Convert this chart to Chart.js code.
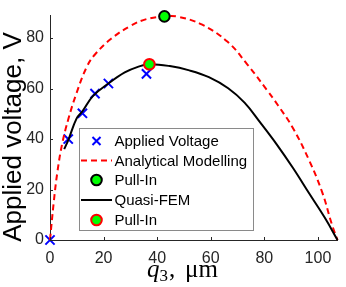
<!DOCTYPE html>
<html>
<head>
<meta charset="utf-8">
<script src="https://cdn.jsdelivr.net/npm/chart.js@4/dist/chart.umd.min.js"></script>
<style>
html,body{margin:0;padding:0;background:#fff;}
#wrap{width:346px;height:287px;position:relative;}
</style>
</head>
<body>
<div id="wrap"><canvas id="c" width="346" height="287"></canvas></div>
<script>
// ---- data ----
const appliedQ = [0, 6.8, 12.1, 16.8, 21.8, 36];
const appliedV = [0, 40, 50.2, 58, 62, 65.8];

const analyticQ = [0, 1.4, 2.7, 4.5, 6.9, 9.9, 13.6, 16.7, 22.8, 30, 36, 43, 48, 56.6, 66.3, 73.6, 80.9, 85, 90.7, 96.7, 101.6, 105.2, 107.3];
const analyticV = [0, 15, 26.5, 37.9, 48.1, 58.2, 68.3, 73.4, 79.7, 84.8, 87.5, 88.6, 88.4, 85.4, 78.5, 69.6, 59.5, 53.5, 44.3, 31.6, 18.9, 6.2, 0];

const pullInAnalyticQ = [42.7];
const pullInAnalyticV = [88.6];

const femQ = [5.3, 6.9, 9.9, 12.1, 16, 21.8, 27.9, 32.8, 37, 44.7, 52, 59.3, 66.5, 72.6, 78.5, 84.6, 90.7, 96.7, 102.8, 107.3];
const femV = [36, 39.8, 48.1, 51, 57, 62, 66.4, 68.6, 69.6, 68.9, 67.2, 64.5, 60.1, 54.4, 46.5, 37.9, 28.5, 18.5, 8.4, 0];

const pullInFemQ = [37.1];
const pullInFemV = [69.6];

const xTickVals = [0, 20, 40, 60, 80, 100];
const yTickVals = [0, 20, 40, 60, 80];
const xMin = 0, xMax = 107.3, yMin = 0, yMax = 88.9;

const seriesLabels = ['Applied Voltage', 'Analytical Modelling', 'Pull-In', 'Quasi-FEM', 'Pull-In'];

const zip = (a, b) => a.map((v, i) => ({x: v, y: b[i]}));
const AX = '#262626';
const GREEN = '#00ff00';

const datasets = [
  {label: seriesLabels[0], data: zip(appliedQ, appliedV), showLine: false,
   pointStyle: 'crossRot', pointRadius: 6.5, pointBorderWidth: 2, borderColor: '#0000ff', backgroundColor: '#0000ff', order: 5, clip: false},
  {label: seriesLabels[1], data: zip(analyticQ, analyticV), showLine: true, pointRadius: 0,
   borderColor: '#ff0000', borderWidth: 2, borderDash: [6, 4], tension: 0.4, order: 4, clip: false},
  {label: seriesLabels[2], data: zip(pullInAnalyticQ, pullInAnalyticV), showLine: false,
   pointStyle: 'circle', pointRadius: 5.3, pointBorderWidth: 2, borderColor: '#000000', backgroundColor: GREEN, order: 3, clip: false},
  {label: seriesLabels[3], data: zip(femQ, femV), showLine: true, pointRadius: 0,
   borderColor: '#000000', borderWidth: 2, tension: 0.4, order: 2, clip: false},
  {label: seriesLabels[4], data: zip(pullInFemQ, pullInFemV), showLine: false,
   pointStyle: 'circle', pointRadius: 5.3, pointBorderWidth: 2, borderColor: '#ff0000', backgroundColor: GREEN, order: 1, clip: false}
];

const decor = {
  id: 'decor',
  afterDraw(chart) {
    const ctx = chart.ctx;
    const xs = chart.scales.x, ys = chart.scales.y;
    const ca = chart.chartArea;
    ctx.save();
    // inward tick marks
    ctx.strokeStyle = AX; ctx.lineWidth = 1;
    xTickVals.forEach(v => {
      const px = Math.round(xs.getPixelForValue(v)) + 0.5;
      ctx.beginPath(); ctx.moveTo(px, ca.bottom); ctx.lineTo(px, ca.bottom - 3); ctx.stroke();
    });
    yTickVals.forEach(v => {
      const py = Math.round(ys.getPixelForValue(v)) + 0.5;
      ctx.beginPath(); ctx.moveTo(ca.left, py); ctx.lineTo(ca.left + 3, py); ctx.stroke();
    });
    // y label
    ctx.save();
    ctx.translate(21, 137);
    ctx.rotate(-Math.PI / 2);
    ctx.font = '26px "Liberation Sans", Arial, sans-serif';
    ctx.fillStyle = '#000';
    ctx.textAlign = 'center'; ctx.textBaseline = 'alphabetic';
    ctx.fillText('Applied voltage, V', 0, 0);
    ctx.restore();
    // x label: q_3, μm
    ctx.fillStyle = '#000';
    ctx.textBaseline = 'alphabetic'; ctx.textAlign = 'left';
    let x0 = 147; const base = 277;
    ctx.font = 'italic 25px "Liberation Serif", serif';
    ctx.fillText('q', x0, base); x0 += ctx.measureText('q').width;
    ctx.font = '17px "Liberation Serif", serif';
    ctx.fillText('3', x0, base + 4); x0 += ctx.measureText('3').width;
    ctx.font = '25px "Liberation Serif", serif';
    ctx.fillText(',', x0 + 1, base);
    ctx.fillText('\u03BCm', 185, base);

    // legend
    const lx = 79.5, ly = 128.5, lw = 174, lh = 102;
    ctx.fillStyle = '#fff'; ctx.fillRect(lx, ly, lw, lh);
    ctx.strokeStyle = '#8a8a8a'; ctx.lineWidth = 1; ctx.setLineDash([]);
    ctx.strokeRect(lx, ly, lw, lh);
    const rows = [141, 160.5, 180, 200, 220];
    const mx = 96.5, textX = 114.5;
    chart.data.datasets.forEach((ds, i) => {
      const y = rows[i];
      ctx.save();
      if (ds.showLine) {
        ctx.strokeStyle = ds.borderColor; ctx.lineWidth = ds.borderWidth;
        ctx.setLineDash(ds.borderDash || []);
        ctx.beginPath(); ctx.moveTo(81, y); ctx.lineTo(112, y); ctx.stroke();
      } else {
        ctx.fillStyle = ds.backgroundColor; ctx.strokeStyle = ds.borderColor; ctx.lineWidth = ds.pointBorderWidth;
        ctx.beginPath();
        if (ds.pointStyle === 'circle') {
          ctx.arc(mx, y, ds.pointRadius, 0, Math.PI * 2); ctx.fill(); ctx.stroke();
        } else {
          const r = ds.pointRadius * 0.62;
          ctx.moveTo(mx - r, y - r); ctx.lineTo(mx + r, y + r);
          ctx.moveTo(mx + r, y - r); ctx.lineTo(mx - r, y + r); ctx.stroke();
        }
      }
      ctx.restore();
      ctx.fillStyle = '#000';
      ctx.font = '15px "Liberation Sans", Arial, sans-serif';
      ctx.textBaseline = 'middle'; ctx.textAlign = 'left';
      ctx.fillText(ds.label, textX, y + 1);
    });
    ctx.restore();
  }
};

new Chart(document.getElementById('c'), {
  type: 'scatter',
  data: {datasets},
  options: {
    responsive: false,
    animation: false,
    devicePixelRatio: 1,
    layout: {padding: {top: 6, right: 1, left: 0, bottom: 0}},
    plugins: {legend: {display: false}, tooltip: {enabled: false}},
    scales: {
      x: {
        type: 'linear', min: xMin, max: xMax,
        afterBuildTicks: s => { s.ticks = xTickVals.map(v => ({value: v})); },
        afterFit: s => { s.height = 47; },
        grid: {display: false, drawTicks: false},
        border: {display: true, color: AX, width: 1},
        ticks: {color: AX, padding: 9, maxRotation: 0, font: {family: '"Liberation Sans", Arial, sans-serif', size: 16}}
      },
      y: {
        type: 'linear', min: yMin, max: yMax,
        afterBuildTicks: s => { s.ticks = yTickVals.map(v => ({value: v})); },
        afterFit: s => { s.width = 50; },
        grid: {display: false, drawTicks: false},
        border: {display: true, color: AX, width: 1},
        ticks: {color: AX, padding: 6, font: {family: '"Liberation Sans", Arial, sans-serif', size: 16}}
      }
    }
  },
  plugins: [decor]
});
</script>
</body>
</html>
